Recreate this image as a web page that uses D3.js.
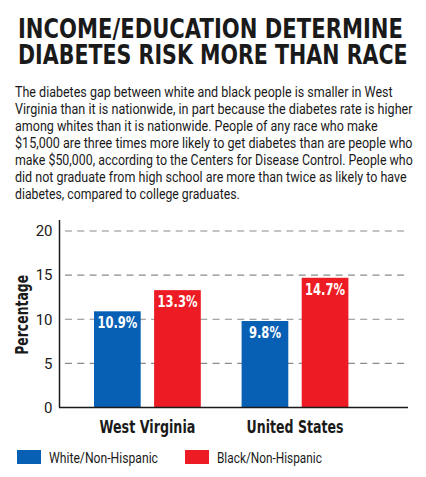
<!DOCTYPE html>
<html>
<head>
<meta charset="utf-8">
<script src="https://cdn.jsdelivr.net/npm/d3@7"></script>
<style>
  html, body { margin: 0; padding: 0; background: #fff; }
  svg { display: block; }
</style>
</head>
<body>
<script>
// ---- Data ----
const titleLines = ["INCOME/EDUCATION DETERMINE", "DIABETES RISK MORE THAN RACE"];
const bodyLines = [
  "The diabetes gap between white and black people is smaller in West",
  "Virginia than it is nationwide, in part because the diabetes rate is higher",
  "among whites than it is nationwide. People of any race who make",
  "$15,000 are three times more likely to get diabetes than are people who",
  "make $50,000, according to the Centers for Disease Control. People who",
  "did not graduate from high school are more than twice as likely to have",
  "diabetes, compared to college graduates."
];
const bodyWidths = [378, 398, 363, 398, 398, 392, 225];
const categories = ["West Virginia", "United States"];
const seriesNames = ["White/Non-Hispanic", "Black/Non-Hispanic"];
const whiteValues = [10.9, 9.8];
const blackValues = [13.3, 14.7];
const yTicks = [0, 5, 10, 15, 20];
const yLabel = "Percentage";
const colors = ["#0860b4", "#ed1c24"];

// ---- Layout ----
const W = 426, H = 477;
const svg = d3.select("body").append("svg").attr("width", W).attr("height", H);

// place a text at (x,y) and squeeze it horizontally to a target width
function fit(sel, x, y, width, rotate) {
  sel.each(function(d, i) {
    const t = d3.select(this);
    const n = this.getComputedTextLength();
    const tw = typeof width === "function" ? width(d, i) : width;
    const tx = typeof x === "function" ? x(d, i) : x;
    const ty = typeof y === "function" ? y(d, i) : y;
    const s = n > 0 ? tw / n : 1;
    t.attr("x", 0).attr("y", 0)
     .attr("transform", `translate(${tx},${ty})${rotate ? " rotate(" + rotate + ")" : ""} scale(${s},1)`);
  });
}

// Title
svg.selectAll("text.title").data(titleLines).enter().append("text")
  .attr("class", "title")
  .style("font-family", "'DejaVu Sans', sans-serif")
  .style("font-weight", "bold")
  .style("font-size", "26px")
  .style("fill", "#1a1a1a")
  .text(d => d)
  .call(fit, 18, (d, i) => 38 + i * 26, (d, i) => i === 0 ? 385 : 390);

// Body text
svg.selectAll("text.body").data(bodyLines).enter().append("text")
  .attr("class", "body")
  .style("font-family", "'Liberation Sans Narrow', Roboto, sans-serif")
  .style("font-size", "14px")
  .style("fill", "#1a1a1a")
  .text(d => d)
  .call(fit, 15, (d, i) => 97 + i * 17, (d, i) => bodyWidths[i]);

// Scales
const y = d3.scaleLinear().domain([0, 20]).range([407.5, 231]);
const x0 = d3.scaleBand().domain(categories).range([73.6, 368.8]).padding(0);
const x1 = d3.scaleBand().domain(seriesNames).range([20.4, 127.2]).paddingInner(0.223).paddingOuter(0);

const data = categories.map((c, i) => ({ cat: c, vals: [whiteValues[i], blackValues[i]] }));

// Gridlines
svg.append("g").selectAll("line").data(yTicks.filter(t => t > 0)).enter().append("line")
  .attr("x1", 65).attr("x2", 407)
  .attr("y1", d => y(d)).attr("y2", d => y(d))
  .attr("stroke", "#8a8a8a").attr("stroke-width", 1.2)
  .attr("stroke-dasharray", "7,5.3");

// Bars
const groups = svg.append("g").selectAll("g").data(data).enter().append("g")
  .attr("transform", d => `translate(${x0(d.cat)},0)`);

groups.selectAll("rect").data(d => d.vals.map((v, i) => ({ v, s: seriesNames[i], i })))
  .enter().append("rect")
  .attr("x", d => x1(d.s))
  .attr("width", x1.bandwidth())
  .attr("y", d => y(d.v))
  .attr("height", d => y(0) - y(d.v))
  .attr("fill", d => colors[d.i]);

groups.selectAll("text").data(d => d.vals.map((v, i) => ({ v, s: seriesNames[i], i })))
  .enter().append("text")
  .attr("text-anchor", "middle")
  .style("font-family", "'DejaVu Sans', sans-serif")
  .style("font-weight", "bold")
  .style("font-size", "15px")
  .style("fill", "#fff")
  .text(d => d.v.toFixed(1) + "%")
  .call(fit, d => x1(d.s) + x1.bandwidth() / 2, d => y(d.v) + 17, d => d.v >= 10 ? 40 : 32);

// Y axis
const yAxis = d3.axisLeft(y).tickValues(yTicks).tickSize(0).tickPadding(7).tickFormat(d3.format("d"));
const gy = svg.append("g").attr("transform", "translate(59.5,0)").call(yAxis);
gy.select(".domain").remove();
gy.selectAll("text")
  .style("font-family", "'Liberation Sans Narrow', Roboto, sans-serif")
  .style("font-size", "15px")
  .style("fill", "#1a1a1a");

svg.append("line").attr("x1", 59.5).attr("x2", 59.5).attr("y1", 220).attr("y2", y(0))
  .attr("stroke", "#1a1a1a").attr("stroke-width", 1.5);
svg.append("line").attr("x1", 59).attr("x2", 408).attr("y1", y(0)).attr("y2", y(0))
  .attr("stroke", "#1a1a1a").attr("stroke-width", 1.5);

// Y label
svg.append("text")
  .attr("text-anchor", "middle")
  .style("font-family", "'DejaVu Sans', sans-serif")
  .style("font-weight", "bold")
  .style("font-size", "17px")
  .style("fill", "#1a1a1a")
  .text(yLabel)
  .call(fit, 28, y(10.5), 80, -90);

// X category labels
svg.selectAll("text.cat").data(categories).enter().append("text")
  .attr("class", "cat")
  .attr("text-anchor", "middle")
  .style("font-family", "'DejaVu Sans', sans-serif")
  .style("font-weight", "bold")
  .style("font-size", "17px")
  .style("fill", "#1a1a1a")
  .text(d => d)
  .call(fit, d => x0(d) + x0.bandwidth() / 2, 433, (d, i) => i === 0 ? 96 : 97);

// Legend
const legendX = [17, 185];
const legendW = [109, 105];
const lg = svg.append("g").selectAll("g").data(seriesNames).enter().append("g")
  .attr("transform", (d, i) => `translate(${legendX[i]},450)`);
lg.append("rect").attr("width", 24).attr("height", 14).attr("fill", (d, i) => colors[i]);
lg.append("text")
  .style("font-family", "'Liberation Sans Narrow', Roboto, sans-serif")
  .style("font-size", "14px")
  .style("fill", "#1a1a1a")
  .text(d => d)
  .call(fit, 32, 13, (d, i) => legendW[i]);
</script>
</body>
</html>
